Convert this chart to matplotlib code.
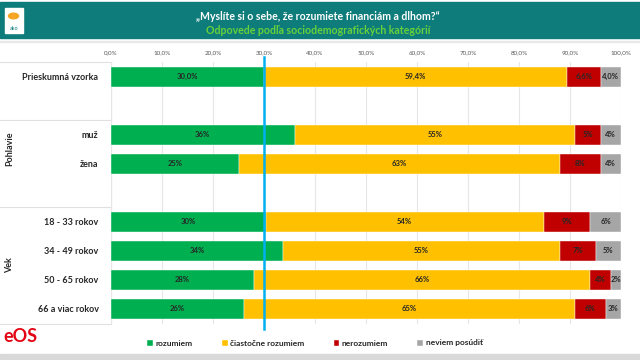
import matplotlib
matplotlib.use("Agg")
import matplotlib.pyplot as plt
from matplotlib.patches import Rectangle, Circle
import numpy as np

plt.rcParams['font.family'] = ['Lato', 'DejaVu Sans']

# data
categories = ["Prieskumná vzorka", "muž", "žena",
              "18 - 33 rokov", "34 - 49 rokov", "50 - 65 rokov", "66 a viac rokov"]
row_pos = [0, 2, 3, 5, 6, 7, 8]
rozumiem = [30.0, 36, 25, 30, 34, 28, 26]
ciastocne = [59.4, 55, 63, 54, 55, 66, 65]
nerozumiem = [6.6, 5, 8, 9, 7, 4, 6]
neviem = [4.0, 4, 4, 6, 5, 2, 3]
series_names = ["rozumiem", "čiastočne rozumiem", "nerozumiem", "neviem posúdiť"]
colors = ["#00b050", "#ffc000", "#c00000", "#a6a6a6"]
ticks = [0, 10, 20, 30, 40, 50, 60, 70, 80, 90, 100]

series = np.array([rozumiem, ciastocne, nerozumiem, neviem], dtype=float)
totals = series.sum(axis=0)
shares = series / totals * 100  # 100% stacked like excel

def fmt(v, decimal):
    if decimal:
        return f"{v:.1f}%".replace(".", ",")
    return f"{v:.0f}%"

fig = plt.figure(figsize=(6.4, 3.6), dpi=100)
fig.patch.set_facecolor("white")

# header band
fig.patches.append(Rectangle((0, 1 - 38 / 360), 1, 36 / 360, transform=fig.transFigure,
                             color="#0e7c7b", zorder=0))
fig.text(0.497, 1 - 17 / 360, "„Myslíte si o sebe, že rozumiete financiám a dlhom?“",
         color="white", fontsize=7.6, fontweight="bold", ha="center", va="center")
fig.text(0.497, 1 - 30.5 / 360, "Odpovede podľa sociodemografických kategórií",
         color="#66d13a", fontsize=7.6, fontweight="bold", ha="center", va="center")
# small logo
fig.patches.append(Rectangle((5 / 640, 1 - 33 / 360), 18 / 640, 25 / 360,
                             transform=fig.transFigure, color="white", zorder=1))
fig.patches.append(Circle((13.5 / 640, 1 - 16 / 360), 5 / 640, transform=fig.transFigure,
                          color="#f5a623", zorder=2))
fig.text(14 / 640, 1 - 28 / 360, "ako", fontsize=4, color="#0e7c7b", ha="center", va="center")
fig.patches.append(Rectangle((0, 1 - 42 / 360), 1, 1.5 / 360, transform=fig.transFigure,
                             color="#e8e8e8", zorder=0))
fig.patches.append(Rectangle((0, 0), 1, 6 / 360, transform=fig.transFigure,
                             color="#d9d9d9", zorder=0))

ax = fig.add_axes([111 / 640, 1 - 323.5 / 360, 510 / 640, 261.5 / 360])
left = np.zeros(len(categories))
for i in range(4):
    ax.barh(row_pos, shares[i], left=left, height=0.69, color=colors[i],
            label=series_names[i], zorder=2, edgecolor="white", linewidth=0.3)
    for j in range(len(categories)):
        ax.text(left[j] + shares[i][j] / 2, row_pos[j], fmt(series[i][j], j == 0),
                ha="center", va="center", fontsize=5.5, fontweight="bold",
                color="#262626", zorder=3)
    left += shares[i]

ax.axvline(30, color="#00b0f0", linewidth=1.8, zorder=4, ymin=-0.02, ymax=1.02, clip_on=False)

ax.set_xlim(0, 100)
ax.set_ylim(8.5, -0.5)
ax.set_xticks(ticks)
ax.set_xticklabels([f"{t:.1f}%".replace(".", ",") for t in ticks], fontsize=4.5, color="#595959")
ax.xaxis.tick_top()
ax.tick_params(axis="x", length=0, pad=5)
ax.set_yticks(row_pos)
ax.set_yticklabels(categories, fontsize=6.5, fontweight="bold", color="#262626")
ax.tick_params(axis="y", length=0, pad=9)
ax.grid(axis="x", color="#e6e6e6", linewidth=0.8, zorder=0)
for s in ax.spines.values():
    s.set_visible(False)
ax.axvline(0, color="#d9d9d9", linewidth=0.8, zorder=1)

# left label panel separators
for y in [1.5, 4.5, 8.5, -0.5]:
    ax.plot([-21.7, 0], [y, y], color="#e0e0e0", linewidth=0.8, clip_on=False,
            transform=ax.transData, zorder=1)

fig.text(10 / 640, 1 - 149 / 360, "Pohlavie", rotation=90, fontsize=6.5, fontweight="bold",
         color="#262626", ha="center", va="center")
fig.text(10 / 640, 1 - 265 / 360, "Vek", rotation=90, fontsize=6.5, fontweight="bold",
         color="#262626", ha="center", va="center")

fig.text(3 / 640, 1 - 336 / 360, "eOS", color="#e30613", fontsize=13, fontweight="bold",
         ha="left", va="center")

fig.legend(loc="center", bbox_to_anchor=(315 / 640, 1 - 343 / 360), ncol=4, frameon=False,
           fontsize=6, handlelength=0.7, handleheight=0.7, columnspacing=3.5,
           handletextpad=0.3, labelcolor="#262626", prop={"weight": "bold", "size": 6})

fig.savefig("out.png", dpi=100)
